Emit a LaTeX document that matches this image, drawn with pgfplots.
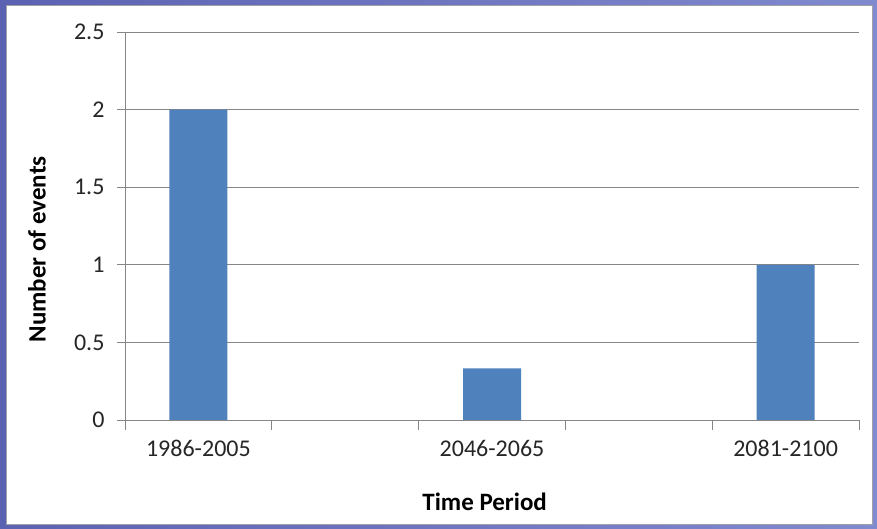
\documentclass[border=0pt]{standalone}
\usepackage{pgfplots}
\pgfplotsset{compat=1.18}
\usepackage{fontspec}
\setmainfont{Carlito}

\definecolor{barblue}{RGB}{79,129,189}
\definecolor{gridgray}{RGB}{134,134,134}
\definecolor{slideL}{RGB}{92,98,178}
\definecolor{slideR}{RGB}{128,138,206}
\definecolor{framegray}{RGB}{160,160,170}

\begin{document}
\begin{tikzpicture}[x=1pt,y=1pt]
  % slide background and the white chart panel
  \shade[left color=slideL,right color=slideR] (0,0) rectangle (877,529);
  \fill[white,draw=framegray,line width=0.8pt] (6,5) rectangle (872,524);

  \begin{axis}[
    at={(125pt,109pt)}, anchor=south west,
    scale only axis, width=734pt, height=388pt,
    xmin=-0.5, xmax=4.5, ymin=0, ymax=2.5,
    axis x line*=bottom, axis y line*=left,
    axis line style={gridgray,line width=0.8pt,-},
    ytick={0,0.5,...,2.5},
    ymajorgrids, grid style={gridgray,line width=0.8pt},
    xtick={0,2,4},
    xticklabels={1986-2005,2046-2065,2081-2100},
    major x tick style={draw=none},
    minor xtick={-0.5,0.5,...,4.5},
    minor x tick style={gridgray,line width=0.8pt},
    minor tick length=10pt,
    y tick style={gridgray,line width=0.8pt},
    major tick length=8pt,
    tick align=outside,
    /pgf/number format/assume math mode=true,
    tick label style={font=\fontsize{24}{28}\selectfont, text=black!85},
    yticklabel style={xshift=-9pt},
    xticklabel style={yshift=-9pt},
    xlabel={\textbf{Time Period}},
    ylabel={\textbf{Number of events}},
    label style={font=\fontsize{25}{29}\selectfont},
    xlabel style={at={(axis description cs:0.49,-0.21)}, anchor=center},
    ylabel style={at={(axis description cs:-0.12,0.44)}, anchor=center, rotate=0},
    clip=false,
  ]
    \addplot[ybar, bar width=58pt, fill=barblue, draw=none]
      coordinates {(0,2) (2,0.3333) (4,1)};
  \end{axis}
  \pgfresetboundingbox
  \useasboundingbox (0,0) rectangle (877,529);
\end{tikzpicture}
\end{document}
